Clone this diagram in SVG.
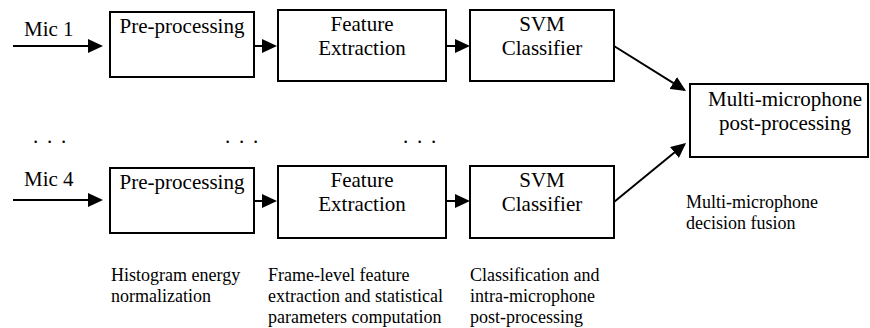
<svg xmlns="http://www.w3.org/2000/svg" width="870" height="328" viewBox="0 0 870 328">
<style>
.box{fill:#fff;stroke:#000;stroke-width:2}
.bt{font-family:'Liberation Serif','Times New Roman',Tinos,'DejaVu Serif',serif;font-size:21px;fill:#000}
.an{font-family:'Liberation Serif','Times New Roman',Tinos,'DejaVu Serif',serif;font-size:18px;fill:#000}
.c{text-anchor:middle}
.ln{stroke:#000;stroke-width:2;fill:none}
</style>
<defs>
<marker id="ah" viewBox="0 0 15 14" refX="13" refY="7" markerWidth="15" markerHeight="14" markerUnits="userSpaceOnUse" orient="auto">
<path d="M0,0 L15,7 L0,14 z" fill="#000"/>
</marker>
</defs>
<g id="connectors">
<line class="ln" x1="13" y1="46" x2="101" y2="46" marker-end="url(#ah)"/>
<line class="ln" x1="254" y1="46" x2="275" y2="46" marker-end="url(#ah)"/>
<line class="ln" x1="446" y1="46" x2="468" y2="46" marker-end="url(#ah)"/>
<line class="ln" x1="614" y1="46" x2="684.3" y2="89.9" marker-end="url(#ah)"/>
<line class="ln" x1="13" y1="200" x2="101" y2="200" marker-end="url(#ah)"/>
<line class="ln" x1="254" y1="201" x2="275" y2="201" marker-end="url(#ah)"/>
<line class="ln" x1="446" y1="201" x2="468" y2="201" marker-end="url(#ah)"/>
<line class="ln" x1="614" y1="202" x2="684.5" y2="144.3" marker-end="url(#ah)"/>
</g>
<g id="mic1-label"><text class="bt" x="24" y="36" font-family="Liberation Serif, serif">Mic 1</text></g>
<g id="mic4-label"><text class="bt" x="24" y="186">Mic 4</text></g>
<g id="pre1">
<rect class="box" x="110" y="12" width="144" height="65"/>
<text class="bt c" x="182" y="33">Pre-processing</text>
</g>
<g id="feat1">
<rect class="box" x="278" y="10" width="168" height="71"/>
<text class="bt c" x="362" y="31">Feature</text>
<text class="bt c" x="362" y="55">Extraction</text>
</g>
<g id="svm1">
<rect class="box" x="470" y="10" width="144" height="71"/>
<text class="bt c" x="542" y="31">SVM</text>
<text class="bt c" x="542" y="55">Classifier</text>
</g>
<g id="multi">
<rect class="box" x="690" y="84" width="178" height="73"/>
<text class="bt c" x="785" y="106">Multi-microphone</text>
<text class="bt c" x="785" y="130">post-processing</text>
</g>
<g id="pre4">
<rect class="box" x="110" y="168" width="144" height="65"/>
<text class="bt c" x="182" y="189">Pre-processing</text>
</g>
<g id="feat4">
<rect class="box" x="278" y="166" width="168" height="72"/>
<text class="bt c" x="362" y="187">Feature</text>
<text class="bt c" x="362" y="211">Extraction</text>
</g>
<g id="svm4">
<rect class="box" x="470" y="166" width="144" height="72"/>
<text class="bt c" x="542" y="187">SVM</text>
<text class="bt c" x="542" y="211">Classifier</text>
</g>
<g id="dots">
<text class="bt" x="33" y="143" word-spacing="3.5">. . .</text>
<text class="bt" x="225" y="143" word-spacing="3.5">. . .</text>
<text class="bt" x="403" y="143" word-spacing="3.5">. . .</text>
</g>
<g id="annotations">
<text class="an" x="111" y="281">Histogram energy</text>
<text class="an" x="111" y="302">normalization</text>
<text class="an" x="268" y="281">Frame-level feature</text>
<text class="an" x="268" y="302">extraction and statistical</text>
<text class="an" x="268" y="323">parameters computation</text>
<text class="an" x="470" y="281">Classification and</text>
<text class="an" x="470" y="302">intra-microphone</text>
<text class="an" x="470" y="323">post-processing</text>
<text class="an" x="686" y="208">Multi-microphone</text>
<text class="an" x="686" y="229">decision fusion</text>
</g>
</svg>
